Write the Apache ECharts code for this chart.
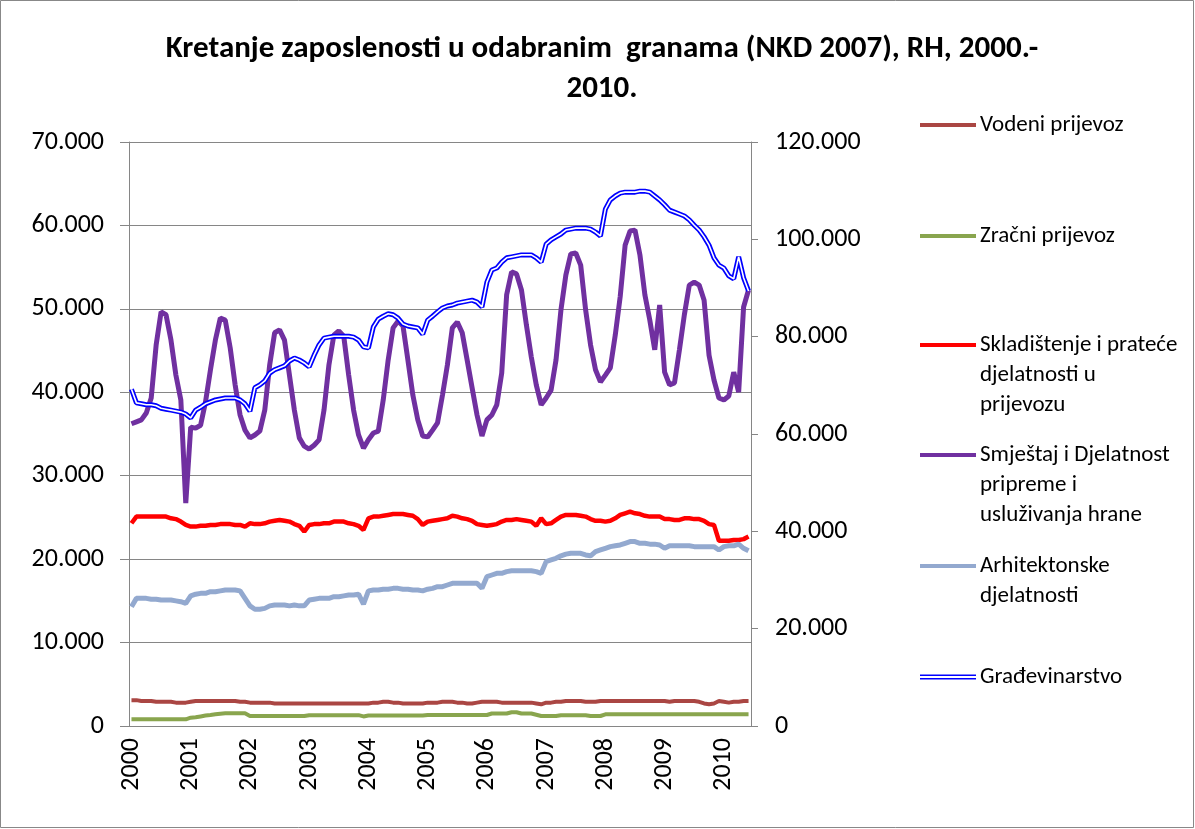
<!DOCTYPE html>
<html><head><meta charset="utf-8">
<script src="https://cdn.jsdelivr.net/npm/echarts@6/dist/echarts.min.js"></script>
<style>html,body{margin:0;padding:0;background:#fff}#c{width:1195px;height:829px}</style>
</head><body><div id="c"></div>
<script>
// Monthly categories Jan 2000 - Jun 2010
const yearLabels = ['2000','2001','2002','2003','2004','2005','2006','2007','2008','2009','2010'];
const monthsInLastYear = 6;
const categories = [];
yearLabels.forEach((y, k) => {
  const n = k === yearLabels.length - 1 ? monthsInLastYear : 12;
  for (let m = 1; m <= n; m++) categories.push(y + '-' + (m < 10 ? '0' + m : m));
});

const vodeni = [
  3100,3100,3000,3000,3000,2900,2900,2900,2900,2800,2800,2800,
  2900,3000,3000,3000,3000,3000,3000,3000,3000,3000,2900,2900,
  2800,2800,2800,2800,2800,2700,2700,2700,2700,2700,2700,2700,
  2700,2700,2700,2700,2700,2700,2700,2700,2700,2700,2700,2700,
  2700,2800,2800,2900,2900,2800,2800,2700,2700,2700,2700,2700,
  2800,2800,2800,2900,2900,2900,2800,2800,2700,2700,2800,2900,
  2900,2900,2900,2800,2800,2800,2800,2800,2800,2800,2700,2600,
  2800,2800,2900,2900,3000,3000,3000,3000,2900,2900,2900,3000,
  3000,3000,3000,3000,3000,3000,3000,3000,3000,3000,3000,3000,
  3000,2900,3000,3000,3000,3000,3000,2900,2700,2600,2700,3000,
  2900,2800,2900,2900,3000,3000
];
const zracni = [
  800,800,800,800,800,800,800,800,800,800,800,800,
  1000,1050,1150,1250,1320,1400,1480,1520,1520,1520,1520,1520,
  1200,1200,1200,1200,1200,1200,1200,1200,1200,1200,1200,1200,
  1300,1300,1300,1300,1300,1300,1300,1300,1300,1300,1300,1150,
  1250,1250,1250,1250,1250,1250,1250,1250,1250,1250,1250,1250,
  1320,1320,1320,1320,1320,1320,1320,1320,1320,1320,1320,1320,
  1320,1500,1500,1500,1500,1650,1650,1500,1500,1500,1350,1200,
  1200,1200,1200,1300,1300,1300,1300,1300,1300,1200,1200,1200,
  1400,1400,1400,1400,1400,1400,1400,1400,1400,1400,1400,1400,
  1400,1400,1400,1400,1400,1400,1400,1400,1400,1400,1400,1400,
  1400,1400,1400,1400,1400,1400
];
const skladistenje = [
  24300,25100,25100,25100,25100,25100,25100,25100,24900,24800,24500,24100,
  23900,23900,24000,24000,24100,24100,24200,24200,24200,24100,24100,23900,
  24300,24200,24200,24300,24500,24600,24700,24600,24500,24200,24000,23300,
  24100,24200,24200,24300,24300,24500,24500,24500,24300,24200,24000,23500,
  24900,25100,25100,25200,25300,25400,25400,25400,25300,25200,24800,24100,
  24500,24600,24700,24800,24900,25200,25100,24900,24800,24600,24200,24100,
  24000,24100,24200,24500,24700,24700,24800,24700,24600,24500,24000,24900,
  24200,24300,24700,25100,25300,25300,25300,25200,25100,24800,24600,24600,
  24500,24600,24900,25300,25500,25700,25500,25400,25200,25100,25100,25100,
  24800,24800,24700,24700,24900,24900,24800,24800,24600,24200,24100,22200,
  22200,22200,22300,22300,22400,22700
];
const smjestaj = [
  62100,62500,62900,64300,67400,78300,85100,84500,79300,72100,67000,45800,
  61400,61200,61800,66600,73200,79300,83800,83400,77700,70100,63900,60800,
  59200,59800,60600,64900,74200,80800,81400,79300,72100,64900,59200,57500,
  56900,57700,58800,64900,74200,80300,81200,80100,72100,64900,59800,57100,
  58800,60200,60600,67000,75200,81800,83200,82200,75200,68000,62900,59600,
  59400,60800,62300,68000,74200,81800,83000,80800,75200,69500,63900,59600,
  62900,63900,66000,72500,88600,93300,92900,89600,82400,75800,70100,66000,
  67400,69000,75200,85500,92700,97000,97200,94700,85500,78300,73200,70700,
  72100,73600,80300,88200,98800,101700,101900,96800,88600,83400,77300,86500,
  72700,70100,70500,77300,84500,90600,91200,90600,87500,76200,71100,67400,
  67000,67800,72700,68600,86100,89600
];
const arhitektonske = [
  14300,15300,15300,15300,15200,15200,15100,15100,15100,15000,14900,14700,
  15600,15800,15900,15900,16100,16100,16200,16300,16300,16300,16200,15300,
  14400,14000,14000,14100,14400,14500,14500,14500,14400,14500,14400,14400,
  15100,15200,15300,15300,15300,15500,15500,15600,15700,15700,15800,14600,
  16200,16300,16300,16400,16400,16500,16500,16400,16400,16300,16300,16200,
  16400,16500,16700,16700,16900,17100,17100,17100,17100,17100,17100,16500,
  17900,18100,18300,18300,18500,18600,18600,18600,18600,18600,18500,18300,
  19700,19900,20100,20400,20600,20700,20700,20700,20500,20400,20900,21100,
  21300,21500,21600,21700,21900,22100,22100,21900,21900,21800,21800,21700,
  21300,21600,21600,21600,21600,21600,21500,21500,21500,21500,21500,21100,
  21500,21600,21600,21800,21300,21000
];
const gradjevinarstvo = [
  69200,66400,66200,66000,66000,65800,65300,65100,64900,64700,64500,64100,
  63300,64900,65500,66200,66600,67000,67200,67400,67400,67400,67000,66200,
  64700,69500,70100,70900,72500,73200,73600,74000,75000,75600,75200,74600,
  73800,76200,78300,79700,79900,80100,80100,80100,80100,79900,79300,77900,
  77700,82000,83600,84200,84700,84500,83800,82600,82200,82000,81800,80500,
  83400,84200,85100,85900,86300,86500,86900,87100,87300,87500,87100,86100,
  91200,93700,94100,95300,96200,96400,96600,96800,96800,96800,96200,95300,
  99000,99900,100500,101100,101900,102100,102300,102300,102300,102100,101500,100700,
  106200,108100,108900,109500,109700,109700,109700,109900,109900,109700,108900,108100,
  107100,106000,105600,105200,104800,104000,102900,101900,100500,98800,96200,94700,
  94100,92500,91900,96400,92100,89400
];

const leftTicks = {min: 0, max: 70000, interval: 10000};
const rightTicks = {min: 0, max: 120000, interval: 20000};

const titleText = 'Kretanje zaposlenosti u odabranim  granama (NKD 2007), RH, 2000.-\n2010.';
const seriesNames = ['Vodeni prijevoz','Zračni prijevoz','Skladištenje i prateće djelatnosti u prijevozu',
  'Smještaj i Djelatnost pripreme i usluživanja hrane','Arhitektonske djelatnosti','Građevinarstvo'];
const legendLines = [
  ['Vodeni prijevoz'],
  ['Zračni prijevoz'],
  ['Skladištenje i prateće','djelatnosti u','prijevozu'],
  ['Smještaj i Djelatnost','pripreme i','usluživanja hrane'],
  ['Arhitektonske','djelatnosti'],
  ['Građevinarstvo']
];
const colors = ['#AA4643','#89A54E','#FF0000','#7030A0','#93A9CF','#0000FF'];

const FONT = 'Carlito, Lato, sans-serif';
const GRID = {left: 129, top: 142, width: 622, height: 584};
const LEG_LH = 30;
const legendFirstLineY = [125, 236, 345, 455, 566, 677];

function fmt(v){ return v === 0 ? '0' : (v/1000).toFixed(3); }

const legends = seriesNames.map((name, k) => {
  const lines = legendLines[k];
  const pad = lines.length - 1;
  const txt = '\n'.repeat(pad) + lines.join('\n');
  const totalLines = lines.length + pad;
  const isDouble = k === 5;
  return {
    data: [{name: name, icon: isDouble ? 'path://M0,0L56,0L56,1.7L0,1.7Z M0,3.5L56,3.5L56,5.2L0,5.2Z' : 'rect'}],
    left: 920,
    top: legendFirstLineY[k] - totalLines * LEG_LH / 2,
    padding: 0,
    itemWidth: 56,
    itemHeight: isDouble ? 5.2 : 4,
    itemGap: 0,
    selectedMode: false,
    itemStyle: {borderWidth: 0},
    formatter: () => txt,
    textStyle: {fontFamily: FONT, fontSize: 23, color: '#000', lineHeight: LEG_LH, padding: [0,0,0,-1]}
  };
});

const axisGray = '#868686';
const option = {
  backgroundColor: '#fff',
  animation: false,
  title: {
    text: titleText,
    left: 597, top: 24, textAlign: 'center',
    textStyle: {fontFamily: FONT, fontSize: 31, fontWeight: 'bold', color: '#000', lineHeight: 40}
  },
  legend: legends,
  grid: GRID,
  xAxis: {
    type: 'category', data: categories, boundaryGap: true,
    axisLine: {lineStyle: {color: axisGray, width: 1}},
    axisTick: {interval: 0, length: 6, lineStyle: {color: axisGray}},
    axisLabel: {interval: 11, rotate: 90, margin: 12, fontFamily: FONT, fontSize: 26, color: '#000',
      formatter: v => v.slice(0, 4)},
    splitLine: {show: false}
  },
  yAxis: [
    {type: 'value', min: leftTicks.min, max: leftTicks.max, interval: leftTicks.interval, position: 'left',
      axisLine: {show: true, lineStyle: {color: axisGray}},
      axisTick: {show: true, length: 9, lineStyle: {color: axisGray}},
      axisLabel: {formatter: fmt, margin: 25, fontFamily: FONT, fontSize: 26, color: '#000'},
      splitLine: {show: true, lineStyle: {color: axisGray, width: 1}}},
    {type: 'value', min: rightTicks.min, max: rightTicks.max, interval: rightTicks.interval, position: 'right',
      axisLine: {show: true, lineStyle: {color: axisGray}},
      axisTick: {show: true, length: 7, lineStyle: {color: axisGray}},
      axisLabel: {formatter: fmt, margin: 24, fontFamily: FONT, fontSize: 26, color: '#000'},
      splitLine: {show: false}}
  ],
  series: [
    {name: seriesNames[0], type: 'line', data: vodeni, yAxisIndex: 0, color: colors[0], showSymbol: false, symbol: 'none', lineStyle: {width: 4}},
    {name: seriesNames[1], type: 'line', data: zracni, yAxisIndex: 0, color: colors[1], showSymbol: false, symbol: 'none', lineStyle: {width: 4}},
    {name: seriesNames[2], type: 'line', data: skladistenje, yAxisIndex: 0, color: colors[2], showSymbol: false, symbol: 'none', lineStyle: {width: 4.5}},
    {name: seriesNames[3], type: 'line', data: smjestaj, yAxisIndex: 1, color: colors[3], showSymbol: false, symbol: 'none', lineStyle: {width: 5}},
    {name: seriesNames[4], type: 'line', data: arhitektonske, yAxisIndex: 0, color: colors[4], showSymbol: false, symbol: 'none', lineStyle: {width: 5}},
    {name: seriesNames[5], type: 'line', data: gradjevinarstvo, yAxisIndex: 1, color: colors[5], showSymbol: false, symbol: 'none', lineStyle: {width: 5}},
    {name: 'gr_inner', type: 'line', data: gradjevinarstvo, yAxisIndex: 1, color: '#fff', showSymbol: false, symbol: 'none', silent: true, lineStyle: {width: 1.6}}
  ],
  graphic: [{type: 'rect', shape: {x: 0.5, y: 0.5, width: 1193, height: 827}, style: {fill: 'none', stroke: '#888', lineWidth: 1}, silent: true}]
};
const chart = echarts.init(document.getElementById('c'), null, {renderer: 'canvas'});
chart.setOption(option);
</script></body></html>
